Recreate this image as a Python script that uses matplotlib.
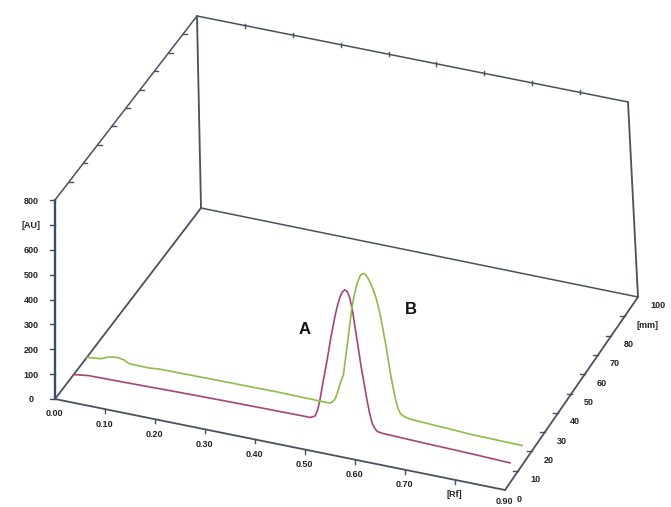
import numpy as np
import matplotlib
matplotlib.use('Agg')
import matplotlib.pyplot as plt

# ---------------- data ----------------
rf_max = 0.9
mm_max = 100
au_max = 800

au_ticks = [0, 100, 200, 300, 400, 500, 600, 700, 800]
au_labels = ['0', '100', '200', '300', '400', '500', '600', '[AU]', '800']
rf_ticks = [0.0, 0.1, 0.2, 0.3, 0.4, 0.5, 0.6, 0.7, 0.8, 0.9]
rf_labels = ['0.00', '0.10', '0.20', '0.30', '0.40', '0.50', '0.60', '0.70', '[Rf]', '0.90']
mm_ticks = [0, 10, 20, 30, 40, 50, 60, 70, 80, 90, 100]
mm_labels = ['0', '10', '20', '30', '40', '50', '60', '70', '80', '[mm]', '100']

track_a_name = 'A'
track_a_mm = 12.8
track_a_rf = [0.00, 0.03, 0.10, 0.20, 0.30, 0.40, 0.46, 0.475, 0.485, 0.49, 0.495,
              0.50, 0.51, 0.52, 0.53, 0.535, 0.54, 0.545, 0.55, 0.555, 0.56, 0.565,
              0.57, 0.58, 0.59, 0.595, 0.60, 0.605, 0.61, 0.62, 0.70, 0.80, 0.876]
track_a_au = [0, 8, 10, 14, 17, 19, 20, 20, 30, 55, 95,
              150, 250, 360, 455, 495, 528, 550, 561, 556, 532, 482,
              410, 265, 140, 85, 45, 28, 18, 15, 10, 5, 0]

track_b_name = 'B'
track_b_mm = 21.8
track_b_rf = [0.00, 0.028, 0.045, 0.062, 0.075, 0.085, 0.125, 0.146, 0.25, 0.387,
              0.48, 0.49, 0.495, 0.50, 0.505, 0.51, 0.518, 0.528, 0.538, 0.543,
              0.548, 0.552, 0.556, 0.560, 0.564, 0.568, 0.572, 0.577, 0.582, 0.588,
              0.594, 0.600, 0.606, 0.614, 0.622, 0.627, 0.632, 0.64, 0.65, 0.777, 0.876]
track_b_au = [0, 6, 20, 25, 20, 9, 8, 12, 14, 16,
              14, 15, 22, 35, 62, 95, 140, 275, 415, 465,
              505, 530, 550, 561, 564, 560, 550, 532, 508, 475,
              425, 360, 285, 174, 85, 48, 28, 20, 15, 3, 0]

# ---------------- projection (box corners in pixel space) ----------------
corners = {
    (0, 0, 0): (55, 399), (1, 0, 0): (505, 490),
    (0, 1, 0): (201, 208), (1, 1, 0): (638, 297),
    (0, 0, 1): (55, 200), (1, 0, 1): (499, 288),
    (0, 1, 1): (197, 16), (1, 1, 1): (628, 102),
}


def proj(rf, mm, au):
    u = np.atleast_1d(np.asarray(rf, float)) / rf_max
    v = np.atleast_1d(np.asarray(mm, float)) / mm_max
    w = np.atleast_1d(np.asarray(au, float)) / au_max
    u, v, w = np.broadcast_arrays(u, v, w)
    x = np.zeros(u.shape)
    y = np.zeros(u.shape)
    for (i, j, k), (px, py) in corners.items():
        wt = (u if i else 1 - u) * (v if j else 1 - v) * (w if k else 1 - w)
        x += wt * px
        y += wt * py
    return x, y


W, H = 671, 507
fig = plt.figure(figsize=(W / 100, H / 100), dpi=100)
ax = fig.add_axes([0, 0, 1, 1])
ax.set_xlim(0, W)
ax.set_ylim(H, 0)
ax.axis('off')

edge_c = '#4a5060'
axis_c = '#3c4a66'
font = dict(family=['Liberation Sans', 'DejaVu Sans'], fontsize=6.5, fontweight='bold', color='#222222')


def edge(a, b, lw=1.1, c=edge_c):
    x, y = proj([a[0], b[0]], [a[1], b[1]], [a[2], b[2]])
    ax.plot(x, y, color=c, lw=lw, solid_capstyle='round')


# box edges
edge((0, 0, 0), (0, 0, au_max), lw=1.7, c=axis_c)
edge((0, 0, au_max), (0, mm_max, au_max))
edge((0, mm_max, 0), (0, mm_max, au_max), lw=1.3)
edge((0, mm_max, au_max), (rf_max, mm_max, au_max))
edge((rf_max, mm_max, 0), (rf_max, mm_max, au_max), lw=1.3)
edge((0, mm_max, 0), (rf_max, mm_max, 0))
edge((0, 0, 0), (0, mm_max, 0), lw=1.3)
edge((0, 0, 0), (rf_max, 0, 0), lw=1.3)
edge((rf_max, 0, 0), (rf_max, mm_max, 0), lw=1.3)

# AU ticks + labels
for t, lab in zip(au_ticks, au_labels):
    x, y = proj(0, 0, t)
    ax.plot([x[0] - 5, x[0]], [y[0], y[0]], color=axis_c, lw=1.0)
    ax.text(x[0] - 24, y[0] + 1, lab, ha='center', va='center', **font)

# Rf ticks + labels
for t, lab in zip(rf_ticks, rf_labels):
    x, y = proj(t, 0, 0)
    if 0 < t < rf_max:
        ax.plot([x[0], x[0]], [y[0], y[0] + 4], color=edge_c, lw=1.0)
    dy = 15 if t < rf_max else 11
    ax.text(x[0] - 1, y[0] + dy, lab, ha='center', va='center', **font)
    # back top edge ticks
    xb, yb = proj(t, mm_max, au_max)
    if 0 < t < rf_max:
        ax.plot([xb[0], xb[0]], [yb[0] - 2, yb[0] + 2], color=edge_c, lw=1.0)

# mm ticks + labels
for t, lab in zip(mm_ticks, mm_labels):
    x, y = proj(rf_max, t, 0)
    if 0 < t < mm_max:
        ax.plot([x[0] - 5, x[0]], [y[0], y[0]], color=edge_c, lw=1.0)
    ax.text(x[0] + 12, y[0] + 9, lab, ha='left', va='center', **font)
    xl, yl = proj(0, t, au_max)
    if 0 < t < mm_max:
        ax.plot([xl[0], xl[0] + 4], [yl[0], yl[0]], color=edge_c, lw=1.0)

# tracks
xa, ya = proj(track_a_rf, track_a_mm, track_a_au)
ax.plot(xa, ya, color='#a3457a', lw=1.2, solid_joinstyle='round')
xb, yb = proj(track_b_rf, track_b_mm, track_b_au)
ax.plot(xb, yb, color='#8cbd45', lw=1.2, solid_joinstyle='round')

ax.text(305, 329, track_a_name, ha='center', va='center', fontsize=12, fontweight='bold',
        family=['Liberation Sans', 'DejaVu Sans'], color='#111111')
ax.text(411, 310, track_b_name, ha='center', va='center', fontsize=12, fontweight='bold',
        family=['Liberation Sans', 'DejaVu Sans'], color='#111111')

fig.savefig('out.png', dpi=100, facecolor='white')
